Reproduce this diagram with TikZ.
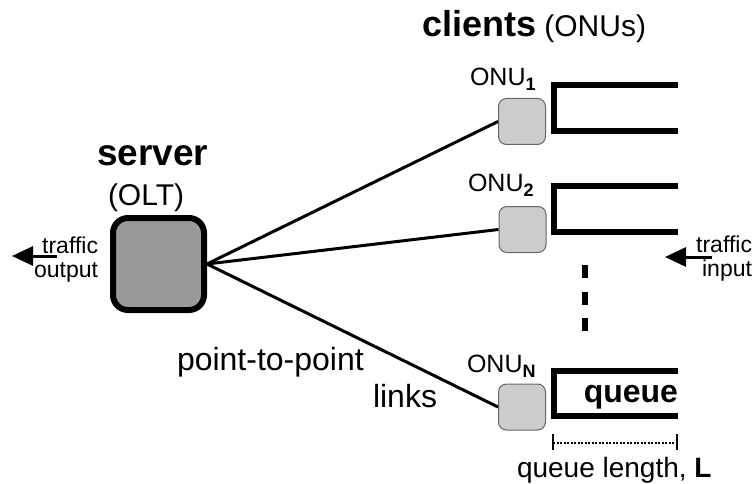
\documentclass[tikz,border=0pt]{standalone}
\usepackage{fontspec}
\setmainfont{Liberation Sans}
\usetikzlibrary{arrows.meta}
\newcommand{\fsz}[1]{\fontsize{#1}{#1}\selectfont}
\newcommand{\onulabel}[1]{\fsz{25}ONU\raisebox{-5pt}{\fsz{18}\bfseries #1}}
\begin{document}
\begin{tikzpicture}[x=1pt,y=-1pt,
  txt/.style={inner sep=0pt, outer sep=0pt},
  olt/.style={draw, line width=6pt, fill=gray!80, rounded corners=15pt,
    minimum width=91pt, minimum height=92pt, inner sep=0pt},
  onu/.style={draw=black!60, line width=1pt, fill=gray!40, rounded corners=8pt,
    minimum width=47pt, minimum height=46pt, inner sep=0pt},
  link/.style={line width=3pt},
  queuebox/.style={line width=6pt, line cap=butt, line join=miter},
  flow/.style={line width=3pt, -{Triangle[length=21pt,width=19pt]}},
]
\useasboundingbox (0,0) rectangle (755,484);

% headings
\node[txt, anchor=base west] (clients) at (422,37)
  {{\fsz{36}\bfseries clients}{\fsz{30}\ (ONUs)}};
\node[txt, anchor=base west] (server) at (97,165) {\fsz{37}\bfseries server};
\node[txt, anchor=base west] (oltname) at (108,205) {\fsz{30}(OLT)};

% server and clients
\node[olt] (olt) at (158.5,264) {};
\node[onu] (onu1) at (522,121.5) {};
\node[onu] (onu2) at (522.5,229.5) {};
\node[onu] (onuN) at (522,407) {};

\node[txt, anchor=base west] (lab1) at (470,86) {\onulabel{1}};
\node[txt, anchor=base west] (lab2) at (468,191) {\onulabel{2}};
\node[txt, anchor=base west] (labN) at (467,372) {\onulabel{N}};

% point-to-point links
\draw[link] (olt.east) -- (onu1.west);
\draw[link] (olt.east) -- (onu2.west);
\draw[link] (olt.east) -- (onuN.west);

% queues
\draw[queuebox] (678,85.5) -- (554,85.5) -- (554,131) -- (678,131);
\draw[queuebox] (678,186) -- (554,186) -- (554,232) -- (678,232);
\draw[queuebox] (678,370.5) -- (554,370.5) -- (554,416) -- (678,416);
\node[txt, anchor=base east] (qlab) at (678,402) {\fsz{32}\bfseries queue};

% vertical ellipsis
\draw[line width=6pt, dash pattern=on 13pt off 13.5pt] (585,265) -- (585,331);

% traffic arrows
\coordinate (outS) at (57,256);
\coordinate (outE) at (12,256);
\draw[flow] (outS) -- (outE);
\node[txt, anchor=base east] (outT1) at (98,253) {\fsz{23}traffic};
\node[txt, anchor=base east] (outT2) at (98,277) {\fsz{23}output};

\coordinate (inS) at (712,257);
\coordinate (inE) at (665,257);
\draw[flow] (inS) -- (inE);
\node[txt, anchor=base east] (inT1) at (752,252) {\fsz{23}traffic};
\node[txt, anchor=base east] (inT2) at (752,276) {\fsz{23}input};

% link label
\node[txt, anchor=base west] (p2p) at (177,370) {\fsz{32}point-to-point};
\node[txt, anchor=base west] (links) at (373,407) {\fsz{32}links};

% queue length dimension
\coordinate (dimA) at (553,443);
\coordinate (dimB) at (677,443);
\draw[line width=2pt, dash pattern=on 2pt off 1.5pt] (dimA) -- (dimB);
\draw[line width=1.5pt] ([yshift=-7pt]dimA) -- ([yshift=9pt]dimA);
\draw[line width=1.5pt] ([yshift=-7pt]dimB) -- ([yshift=9pt]dimB);
\node[txt, anchor=base west] (qlen) at (517,477) {\fsz{28}queue length, \textbf{L}};
\end{tikzpicture}
\end{document}
